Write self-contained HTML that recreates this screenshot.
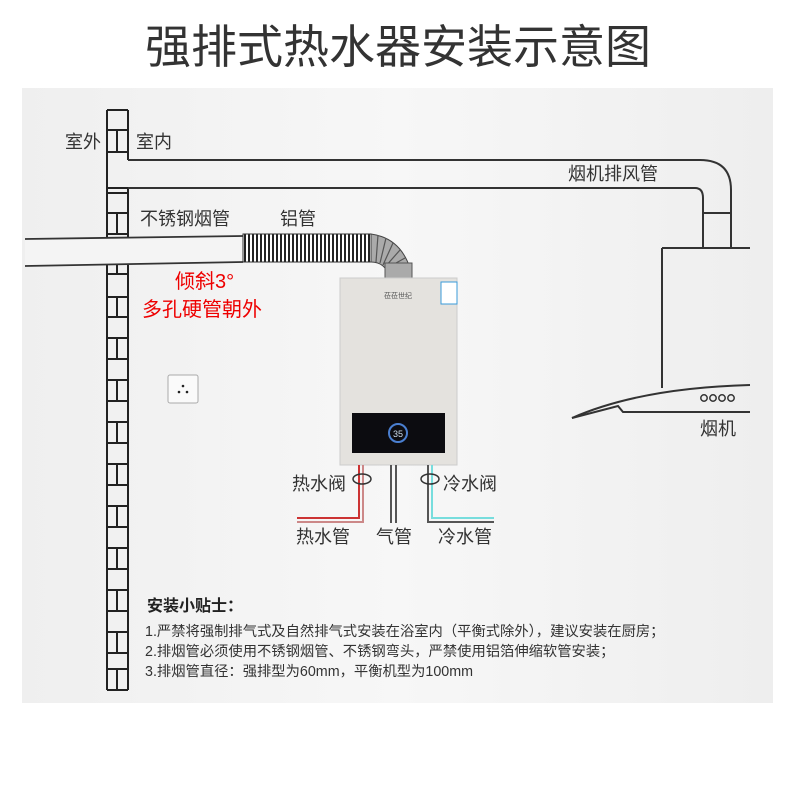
<!DOCTYPE html>
<html><head><meta charset="utf-8"><style>
body{margin:0;width:800px;height:800px;background:#fff;overflow:hidden}
svg{display:block}
text{font-family:"Liberation Sans","Noto Sans CJK SC",sans-serif;fill:#333}
</style></head><body>
<svg width="800" height="800" viewBox="0 0 800 800" xmlns="http://www.w3.org/2000/svg">
<defs>
<linearGradient id="bg" x1="0" y1="0" x2="1" y2="0"><stop offset="0" stop-color="#efefef"/><stop offset="0.5" stop-color="#f7f7f7"/><stop offset="1" stop-color="#eeeeee"/></linearGradient>
<pattern id="corr" width="4" height="10" patternUnits="userSpaceOnUse"><rect width="4" height="10" fill="#fff"/><rect width="2" height="10" fill="#222"/></pattern>
</defs>
<text x="398" y="63" font-size="46" text-anchor="middle" style="fill:#333">强排式热水器安装示意图</text>
<rect x="22" y="88" width="751" height="615" fill="url(#bg)"/>

<!-- wall -->
<g stroke="#222" stroke-width="2" fill="none">
<line x1="107" y1="110" x2="107" y2="690"/>
<line x1="128" y1="110" x2="128" y2="160"/>
<line x1="128" y1="188" x2="128" y2="237"/>
<line x1="128" y1="265" x2="128" y2="690"/>
<line x1="107" y1="110" x2="128" y2="110"/>
<line x1="107" y1="130" x2="128" y2="130"/><line x1="117" y1="130" x2="117" y2="152"/>
<line x1="107" y1="152" x2="128" y2="152"/>
<line x1="107" y1="188" x2="128" y2="188"/>
<line x1="107" y1="193" x2="128" y2="193"/>
<line x1="107" y1="213" x2="128" y2="213"/><line x1="117" y1="213" x2="117" y2="234"/>
<line x1="107" y1="234" x2="128" y2="234"/>
<line x1="107" y1="274" x2="128" y2="274"/><line x1="117" y1="265" x2="117" y2="274"/>
<line x1="107" y1="297" x2="128" y2="297"/><line x1="117" y1="297" x2="117" y2="317"/>
<line x1="107" y1="317" x2="128" y2="317"/>
<line x1="107" y1="338" x2="128" y2="338"/><line x1="117" y1="338" x2="117" y2="359"/>
<line x1="107" y1="359" x2="128" y2="359"/>
<line x1="107" y1="380" x2="128" y2="380"/><line x1="117" y1="380" x2="117" y2="401"/>
<line x1="107" y1="401" x2="128" y2="401"/>
<line x1="107" y1="422" x2="128" y2="422"/><line x1="117" y1="422" x2="117" y2="443"/>
<line x1="107" y1="443" x2="128" y2="443"/>
<line x1="107" y1="464" x2="128" y2="464"/><line x1="117" y1="464" x2="117" y2="485"/>
<line x1="107" y1="485" x2="128" y2="485"/>
<line x1="107" y1="506" x2="128" y2="506"/><line x1="117" y1="506" x2="117" y2="527"/>
<line x1="107" y1="527" x2="128" y2="527"/>
<line x1="107" y1="548" x2="128" y2="548"/><line x1="117" y1="548" x2="117" y2="569"/>
<line x1="107" y1="569" x2="128" y2="569"/>
<line x1="107" y1="590" x2="128" y2="590"/><line x1="117" y1="590" x2="117" y2="611"/>
<line x1="107" y1="611" x2="128" y2="611"/>
<line x1="107" y1="632" x2="128" y2="632"/><line x1="117" y1="632" x2="117" y2="653"/>
<line x1="107" y1="653" x2="128" y2="653"/>
<line x1="107" y1="669" x2="128" y2="669"/><line x1="117" y1="669" x2="117" y2="690"/>
<line x1="107" y1="690" x2="128" y2="690"/>
</g>

<!-- top flue -->
<g stroke="#333" stroke-width="2" fill="none">
<path d="M128 160 H700 Q731 160 731 190 V248"/>
<path d="M128 188 H695 Q703 188 703 198 V248"/>
<rect x="703" y="213" width="28" height="35"/>
<path d="M662 248 H750 M662 248 V388"/>
<path d="M572 418 Q640 388 750 385"/>
<path d="M572 418 L618 406 L623 412 H750"/>
</g>
<g stroke="#333" stroke-width="1.5" fill="none">
<circle cx="704" cy="398" r="3.2"/><circle cx="713" cy="398" r="3.2"/><circle cx="722" cy="398" r="3.2"/><circle cx="731" cy="398" r="3.2"/>
</g>

<!-- steel pipe -->
<path d="M25 239 L243 236 L243 262 L25 266 Z" fill="#f4f4f4" stroke="none"/>
<g stroke="#333" stroke-width="1.8" fill="none">
<line x1="25" y1="239" x2="243" y2="236"/>
<line x1="25" y1="266" x2="243" y2="262"/>
</g>
<rect x="243" y="234" width="128" height="28" fill="url(#corr)" stroke="#333" stroke-width="1"/>
<path d="M371 234 Q400 238 410 268 L385 268 Q380 262 371 262 Z" fill="#aaa" stroke="#444" stroke-width="1"/>
<g stroke="#555" stroke-width="1.2"><line x1="378" y1="235" x2="376" y2="262"/><line x1="386" y1="238" x2="380" y2="263"/><line x1="393" y1="243" x2="383" y2="265"/><line x1="400" y1="250" x2="385" y2="267"/><line x1="405" y1="258" x2="387" y2="268"/></g>
<rect x="385" y="263" width="27" height="16" fill="#aaa" stroke="#555"/>

<!-- heater -->
<rect x="340" y="278" width="117" height="187" fill="#e4e2de" stroke="#ccc"/>
<rect x="441" y="282" width="16" height="22" fill="#fff" stroke="#3a9bd9"/>
<text x="384" y="298" font-size="7" style="fill:#555">莅莅世纪</text>
<rect x="352" y="413" width="93" height="40" fill="#0c0c10"/>
<circle cx="398" cy="433" r="9" fill="none" stroke="#4a7fd0" stroke-width="2"/>
<text x="398" y="437" font-size="9" text-anchor="middle" style="fill:#cde">35</text>

<!-- water/gas pipes -->
<g fill="none" stroke-width="2">
<path d="M359 465 V518 H297" stroke="#c33"/>
<path d="M363 465 V522 H297" stroke="#c88"/>
<path d="M391 465 V523" stroke="#555"/>
<path d="M396 465 V523" stroke="#555"/>
<path d="M428 465 V522 H494" stroke="#555"/>
<path d="M432 465 V518 H494" stroke="#7dd"/>
</g>
<ellipse cx="362" cy="479" rx="9" ry="5" fill="none" stroke="#333" stroke-width="1.5"/>
<ellipse cx="430" cy="479" rx="9" ry="5" fill="none" stroke="#333" stroke-width="1.5"/>

<!-- socket -->
<rect x="168" y="375" width="30" height="28" rx="2" fill="#fafafa" stroke="#aaa"/>
<circle cx="183" cy="386" r="1.3" fill="#222"/><circle cx="179" cy="392" r="1.3" fill="#222"/><circle cx="187" cy="392" r="1.3" fill="#222"/>

<!-- labels -->
<g font-size="18">
<text x="65" y="148">室外</text>
<text x="136" y="148">室内</text>
<text x="568" y="180">烟机排风管</text>
<text x="140" y="225">不锈钢烟管</text>
<text x="280" y="225">铝管</text>
<text x="700" y="435">烟机</text>
<text x="292" y="490">热水阀</text>
<text x="443" y="490">冷水阀</text>
<text x="296" y="543">热水管</text>
<text x="376" y="543">气管</text>
<text x="438" y="543">冷水管</text>
</g>
<text x="175" y="288" font-size="20" style="fill:#e00">倾斜3°</text>
<text x="142" y="316" font-size="20" style="fill:#e00">多孔硬管朝外</text>

<text x="147" y="611" font-size="16" font-weight="bold" style="fill:#222">安装小贴士：</text>
<g font-size="14.3" style="fill:#444">
<text x="145" y="636">1.严禁将强制排气式及自然排气式安装在浴室内（平衡式除外），建议安装在厨房；</text>
<text x="145" y="656">2.排烟管必须使用不锈钢烟管、不锈钢弯头，严禁使用铝箔伸缩软管安装；</text>
<text x="145" y="676">3.排烟管直径：强排型为60mm，平衡机型为100mm</text>
</g>
</svg>
</body></html>
